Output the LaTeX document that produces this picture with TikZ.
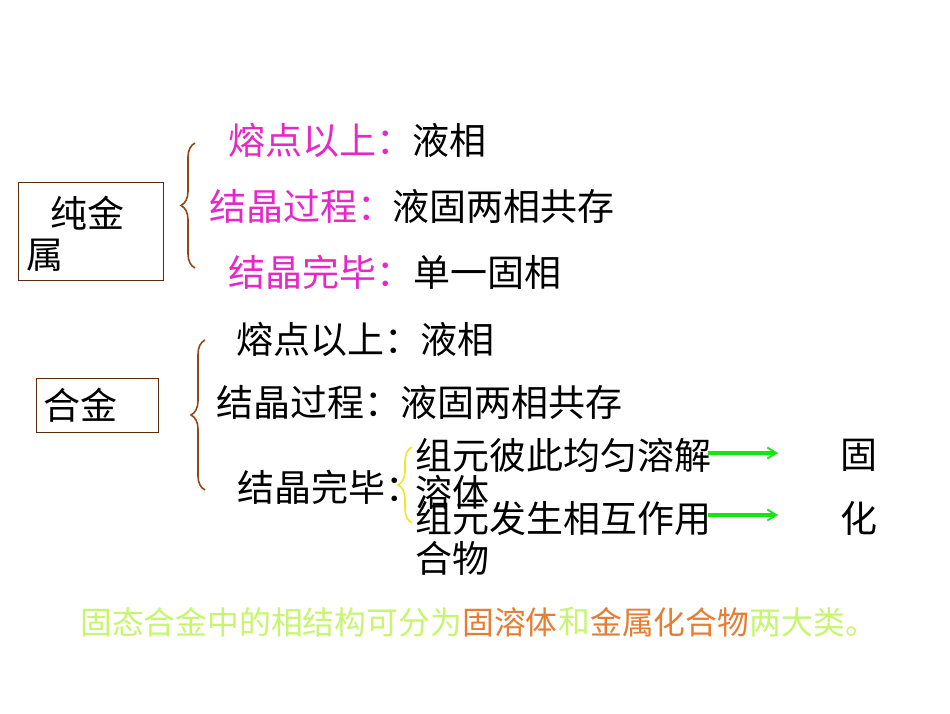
\documentclass[tikz,border=0pt]{standalone}
\usepackage{fontspec}
\newfontfamily\cjk{Noto Sans CJK SC}
\usetikzlibrary{decorations.pathreplacing,arrows.meta}
\definecolor{mag}{RGB}{230,40,200}
\definecolor{brn}{RGB}{150,70,20}
\definecolor{ylw}{RGB}{240,230,40}
\definecolor{grn}{RGB}{20,230,20}
\definecolor{lgr}{RGB}{200,245,110}
\definecolor{org}{RGB}{230,125,50}
\tikzset{
 txt/.style={anchor=west,inner sep=0pt,font=\cjk\fontsize{37}{42}\selectfont},
 small/.style={anchor=west,inner sep=0pt,font=\cjk\fontsize{31.8}{36}\selectfont},
 box/.style={draw=brn!60!black,line width=0.8pt},
 br/.style={decorate,decoration={brace,amplitude=14pt,mirror},line width=1.6pt},
 arr/.style={draw=grn,line width=3.5pt,-{Straight Barb[length=9pt,width=11pt,line width=1.8pt]}}
}
\begin{document}
\begin{tikzpicture}[x=1pt,y=-1pt]
\useasboundingbox[fill=white] (0,0) rectangle (950,713);
% pure metal
\draw[box] (18,182) rectangle (163,280);
\node[txt] (cj) at (50,213) {纯金};
\node[txt] (cs) at (26,255) {属};
\draw[br,brn] (195,143) -- (195,268);
\node[txt,mag] (a1) at (228,140) {熔点以上：};
\node[txt] (a1b) at (412,140) {液相};
\node[txt,mag] (a2) at (209,206) {结晶过程：};
\node[txt] (a2b) at (392,206) {液固两相共存};
\node[txt,mag] (a3) at (228,272) {结晶完毕：};
\node[txt] (a3b) at (413,272) {单一固相};
% alloy
\draw[box] (36,378) rectangle (158,432);
\node[txt] (hj) at (43,405) {合金};
\draw[br,brn] (205,340) -- (205,490);
\node[txt] (b1) at (236,339) {熔点以上：};
\node[txt] (b1b) at (420,339) {液相};
\node[txt] (b2) at (216,402) {结晶过程：};
\node[txt] (b2b) at (400,402) {液固两相共存};
\node[txt] (b3) at (237,487) {结晶完毕：};
\draw[br,ylw] (412,447) -- (412,523);
\node[txt] (c1) at (415,455) {组元彼此均匀溶解};
\node[txt] (c2) at (415,492) {溶体};
\node[txt] (c3) at (415,518) {组元发生相互作用};
\node[txt] (c4) at (415,558) {合物};
\node[txt] (g1) at (840,455) {固};
\node[txt] (g2) at (840,518) {化};
\coordinate (e1) at (778,453);
\coordinate (e2) at (778,515);
\draw[arr] (708,453) -- (e1);
\draw[arr] (708,515) -- (e2);
\node[small,lgr] (s1) at (80,622) {固态合金中的相结构可分为};
\node[small,org] (s2) at (s1.east) {固溶体};
\node[small,lgr] (s3) at (s2.east) {和};
\node[small,org] (s4) at (s3.east) {金属化合物};
\node[small,lgr] (s5) at (s4.east) {两大类。};
\end{tikzpicture}
\end{document}
